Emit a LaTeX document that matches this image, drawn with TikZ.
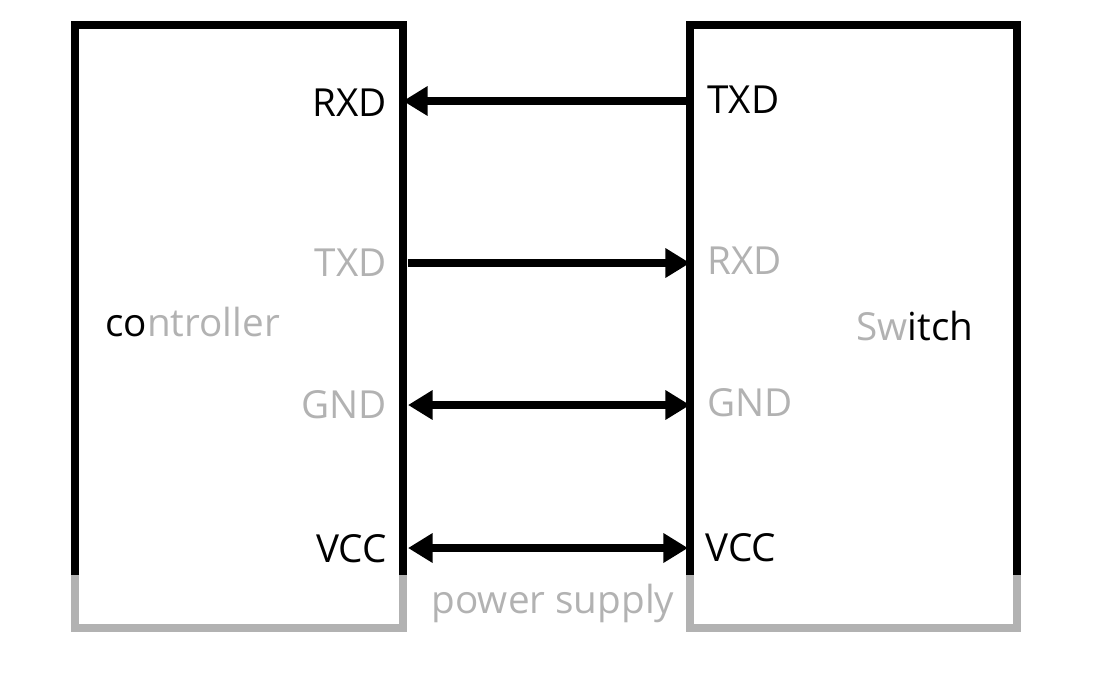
\documentclass[tikz,border=0pt]{standalone}
\usepackage{fontspec}
\setmainfont{Open Sans}
\usetikzlibrary{arrows.meta}
\begin{document}
\begin{tikzpicture}[x=0.02cm,y=-0.02cm,
  box/.style={line width=5pt},
  gbox/.style={line width=5pt,color=gray!60},
  lbl/.style={font=\fontsize{22}{26}\selectfont,inner sep=0pt},
  glbl/.style={lbl,text=gray!60},
  sig/.style={line width=4pt,-{Triangle[length=14pt,width=16pt]}},
  bsig/.style={line width=4pt,{Triangle[length=14pt,width=16pt]}-{Triangle[length=14pt,width=16pt]}}]
\useasboundingbox (0,0) rectangle (1100,681);
\draw[box] (75,575) -- (75,25) -- (403,25) -- (403,575);
\draw[box] (690,575) -- (690,25) -- (1017,25) -- (1017,575);
\draw[gbox] (75,575) -- (75,628) -- (403,628) -- (403,575);
\draw[gbox] (690,575) -- (690,628) -- (1017,628) -- (1017,575);
\coordinate (l1) at (403,101); \coordinate (r1) at (690,101);
\coordinate (l2) at (408,263); \coordinate (r2) at (690,263);
\coordinate (l3) at (408,405); \coordinate (r3) at (690,405);
\coordinate (l4) at (408,548); \coordinate (r4) at (688,548);
\draw[sig] (r1) -- (l1);
\draw[sig] (l2) -- (r2);
\draw[bsig] (l3) -- (r3);
\draw[bsig] (l4) -- (r4);
\node[lbl,anchor=east] (a) at (387,103) {RXD};
\node[lbl,anchor=west] (b) at (707,100) {TXD};
\node[glbl,anchor=east] (c) at (387,263) {TXD};
\node[glbl,anchor=west] (d) at (707,261) {RXD};
\node[glbl,anchor=east] (e) at (387,405) {GND};
\node[glbl,anchor=west] (f) at (707,403) {GND};
\node[lbl,anchor=east] (g) at (387,549) {VCC};
\node[lbl,anchor=west] (h) at (705,548) {VCC};
\node[lbl,anchor=west] (i) at (105,322) {co\textcolor{gray!60}{ntroller}};
\node[lbl,anchor=west] (j) at (856,326) {\textcolor{gray!60}{Sw}itch};
\node[glbl] (k) at (553,603) {power supply};
\end{tikzpicture}
\end{document}
